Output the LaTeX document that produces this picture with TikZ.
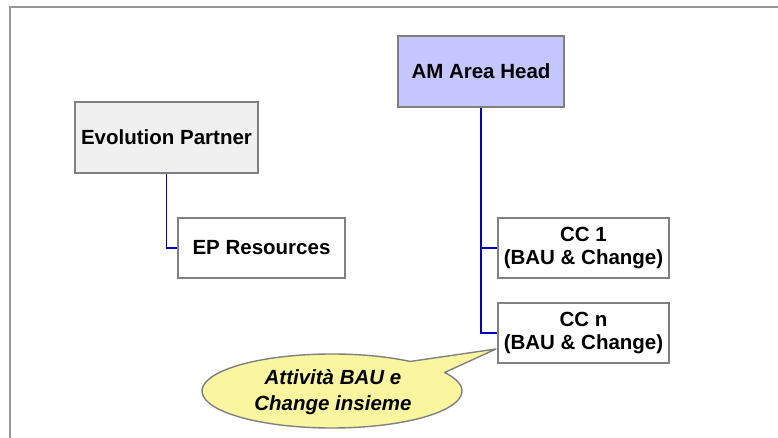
\documentclass[tikz,border=0pt]{standalone}
\usepackage{fontspec}
\setmainfont{Liberation Sans}
\usetikzlibrary{calc}
\begin{document}
\begin{tikzpicture}[x=1pt,y=1pt,
  box/.style={draw=boxline, line width=1.6pt, inner sep=0pt, align=center,
    font=\fontsize{20.5}{22.5}\selectfont\bfseries},
  link/.style={draw=linkblue, line width=1.6pt},
  frame/.style={draw=frameline, line width=1.8pt}]
\definecolor{boxline}{RGB}{128,128,128}
\definecolor{frameline}{RGB}{150,150,150}
\definecolor{linkblue}{RGB}{0,0,205}
\definecolor{headfill}{RGB}{197,197,255}
\definecolor{partnerfill}{RGB}{240,240,240}
\definecolor{notefill}{RGB}{250,246,160}
\useasboundingbox (0,0) rectangle (778,438);
\fill[white] (0,0) rectangle (778,438);
% outer frame, open towards the bottom and the right
\draw[frame] (10,-5) -- (10,431) -- (790,431);

% boxes
\node[box, fill=headfill, minimum width=166pt, minimum height=71pt] (am) at (481,366.5) {AM Area Head};
\node[box, fill=partnerfill, minimum width=183pt, minimum height=71pt] (evo) at (166.5,300.5) {Evolution Partner};
\node[box, fill=white, minimum width=167pt, minimum height=60pt] (epr) at (261.5,190) {EP Resources};
\node[box, fill=white, minimum width=171pt, minimum height=60pt] (cc1) at (583.5,190) {CC 1\\(BAU \& Change)};
\node[box, fill=white, minimum width=171pt, minimum height=60pt] (ccn) at (583.5,105) {CC n\\(BAU \& Change)};

% connectors
\draw[link] (evo.south) |- (epr.west);
\draw[link] (am.south) |- (cc1.west);
\draw[link] (am.south) |- (ccn.west);

% speech bubble pointing at CC n
\coordinate (bubc) at (332,47);
\coordinate (tip) at (496,89);
\draw[draw=boxline, fill=notefill, line width=1.4pt, line join=round]
  ($(bubc)+(30:130 and 37)$) -- (tip) -- ($(bubc)+(53:130 and 37)$)
  arc[start angle=53, end angle=390, x radius=130, y radius=37] -- cycle;
\node[font=\fontsize{20.5}{26}\selectfont\bfseries\itshape, align=center] (note) at (333,46) {Attività BAU e\\Change insieme};
\end{tikzpicture}
\end{document}
